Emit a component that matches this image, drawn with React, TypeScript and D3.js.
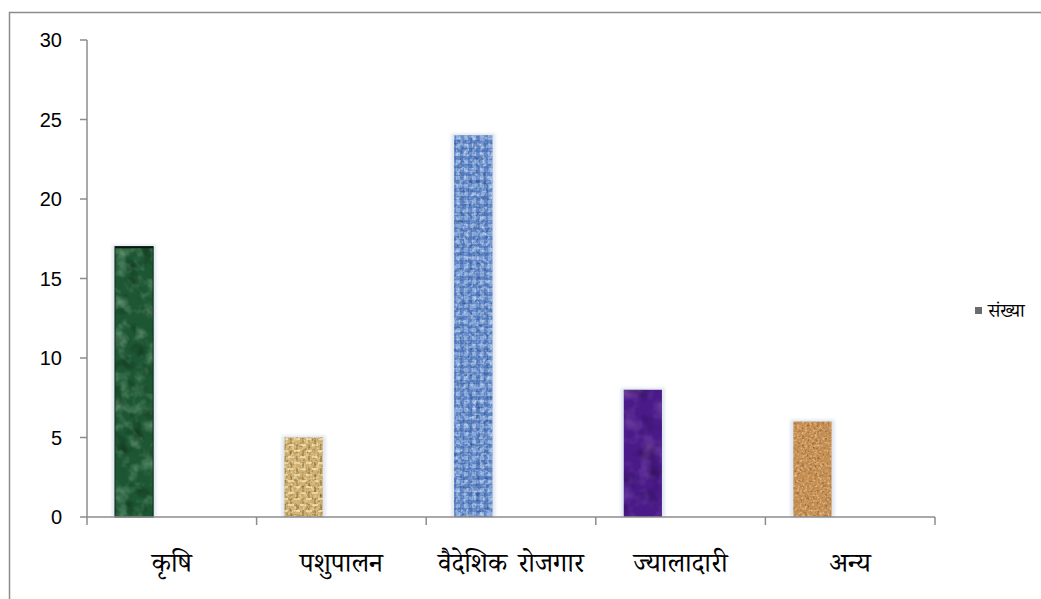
import React from "react";
import * as d3 from "d3";

const categories = ["कृषि", "पशुपालन", "वैदेशिक रोजगार", "ज्यालादारी", "अन्य"];
const values = [17, 5, 24, 8, 6];
const yTicks = [0, 5, 10, 15, 20, 25, 30];
const seriesName = "संख्या";

const baseColors = ["#1d5632", "#cfae6c", "#5f86c8", "#4a1a88", "#c58c4e"];
const noiseColors = [
  [0.4, 0.65, 0.45],
  [0.98, 0.9, 0.65],
  [0.8, 0.9, 1.0],
  [0.5, 0.28, 0.68],
  [0.95, 0.78, 0.55],
];
const noiseFreq = ["0.07", "0.35", "0.3", "0.05", "0.4"];
const texOpacity = [0.45, 0.7, 0.7, 0.35, 0.7];

const W = 1041;
const H = 599;
const left = 87;
const right = 935;
const top = 40;
const bottom = 517;
const devFont = "'Noto Serif Devanagari','Noto Sans Devanagari','Lohit Devanagari','Mangal','FreeSerif',serif";
const numFont = "'Liberation Sans','Open Sans',Arial,sans-serif";

export default function App() {
  const x = d3.scaleBand<string>().domain(categories).range([left, right]).paddingInner(0).paddingOuter(0);
  const y = d3.scaleLinear().domain([0, 30]).range([bottom, top]);
  const bw = x.bandwidth();
  const barW = bw * 0.225;
  const barOff = bw * 0.165;

  return (
    <svg width={W} height={H} style={{ display: "block", position: "absolute", left: 0, top: 0 }}>
      <defs>
        {baseColors.map((c, i) => {
          const [r, g, b] = noiseColors[i];
          return (
            <filter id={`tex${i}`} key={i} x="0" y="0" width="1" height="1">
              <feTurbulence type="fractalNoise" baseFrequency={noiseFreq[i]} numOctaves={3} seed={i + 3} result="t" />
              <feColorMatrix
                in="t"
                type="matrix"
                values={`0 0 0 0 ${r}  0 0 0 0 ${g}  0 0 0 0 ${b}  2.2 0 0 0 -1.0`}
                result="c"
              />
              <feComposite in="c" in2="SourceAlpha" operator="in" />
            </filter>
          );
        })}
        {baseColors.map((c, i) => (
          <filter id={`dk${i}`} key={`d${i}`} x="0" y="0" width="1" height="1">
            <feTurbulence type="fractalNoise" baseFrequency={noiseFreq[i]} numOctaves={2} seed={i + 11} result="t" />
            <feColorMatrix in="t" type="matrix" values={`0 0 0 0 0  0 0 0 0 0  0 0 0 0 0  0 2.0 0 0 -1.05`} result="c" />
            <feComposite in="c" in2="SourceAlpha" operator="in" />
          </filter>
        ))}
        <pattern id="weave" width="12" height="12" patternUnits="userSpaceOnUse">
          <rect width="12" height="12" fill="none" />
          <rect x="0" y="0" width="6" height="2" fill="#fff3c8" opacity="0.55" />
          <rect x="6" y="6" width="6" height="2" fill="#fff3c8" opacity="0.55" />
          <rect x="8" y="0" width="2" height="6" fill="#8a6a30" opacity="0.5" />
          <rect x="2" y="6" width="2" height="6" fill="#8a6a30" opacity="0.5" />
        </pattern>
        <pattern id="denim" width="8" height="8" patternUnits="userSpaceOnUse">
          <rect x="0" y="0" width="4" height="4" fill="#a8c4ee" opacity="0.55" />
          <rect x="4" y="4" width="4" height="4" fill="#3a62a8" opacity="0.45" />
        </pattern>
        <filter id="glow" x="-30%" y="-10%" width="160%" height="120%">
          <feGaussianBlur stdDeviation="1.6" />
        </filter>
      </defs>

      <rect x={9.5} y={12.5} width={W} height={H} fill="none" stroke="#8c8c8c" strokeWidth={1.5} />

      {categories.map((c, i) => {
        const bx = (x(c) as number) + barOff;
        const by = y(values[i]);
        const bh = y(0) - by;
        return (
          <g key={c}>
            <rect x={bx - 3} y={by - 2} width={barW + 6} height={bh + 2} fill="#d7e0ec" opacity={0.8} filter="url(#glow)" />
            <rect x={bx} y={by} width={barW} height={bh} fill={baseColors[i]} />
            {i === 1 && <rect x={bx} y={by} width={barW} height={bh} fill="url(#weave)" />}
            {i === 2 && <rect x={bx} y={by} width={barW} height={bh} fill="url(#denim)" />}
            <rect x={bx} y={by} width={barW} height={bh} fill="#fff" filter={`url(#dk${i})`} opacity={0.45} />
            <rect x={bx} y={by} width={barW} height={bh} fill="#fff" filter={`url(#tex${i})`} opacity={texOpacity[i]} />
            {i === 0 && <line x1={bx} x2={bx + barW} y1={by + 0.5} y2={by + 0.5} stroke="#111" strokeWidth={2} />}
            {i === 0 && <rect x={bx} y={by} width={barW} height={bh} fill="none" stroke="#0c2a16" strokeWidth={1} />}
          </g>
        );
      })}

      <line x1={left} x2={left} y1={top} y2={bottom} stroke="#8c8c8c" strokeWidth={1.5} />
      {yTicks.map((t) => (
        <g key={t}>
          <line x1={left - 7} x2={left} y1={y(t)} y2={y(t)} stroke="#8c8c8c" strokeWidth={1.5} />
          <text x={62} y={y(t)} dy="0.36em" textAnchor="end" fontSize={20} fontFamily={numFont} fill="#000">
            {t}
          </text>
        </g>
      ))}

      <line x1={left} x2={right} y1={bottom} y2={bottom} stroke="#8c8c8c" strokeWidth={1.5} />
      {[...categories.map((c) => x(c) as number), right].map((px, i) => (
        <line key={i} x1={px} x2={px} y1={bottom} y2={bottom + 8} stroke="#8c8c8c" strokeWidth={1.5} />
      ))}
      {categories.map((c) => (
        <text
          key={c}
          x={(x(c) as number) + bw / 2}
          y={572}
          textAnchor="middle"
          fontSize={27}
          fontWeight={400}
          wordSpacing={4}
          fontFamily={devFont}
          fill="#000"
        >
          {c}
        </text>
      ))}

      <rect x={975} y={307} width={7} height={7} fill="#6b6b6b" />
      <text x={988} y={317} fontSize={19} fontFamily={devFont} fill="#000">
        {seriesName}
      </text>
    </svg>
  );
}
